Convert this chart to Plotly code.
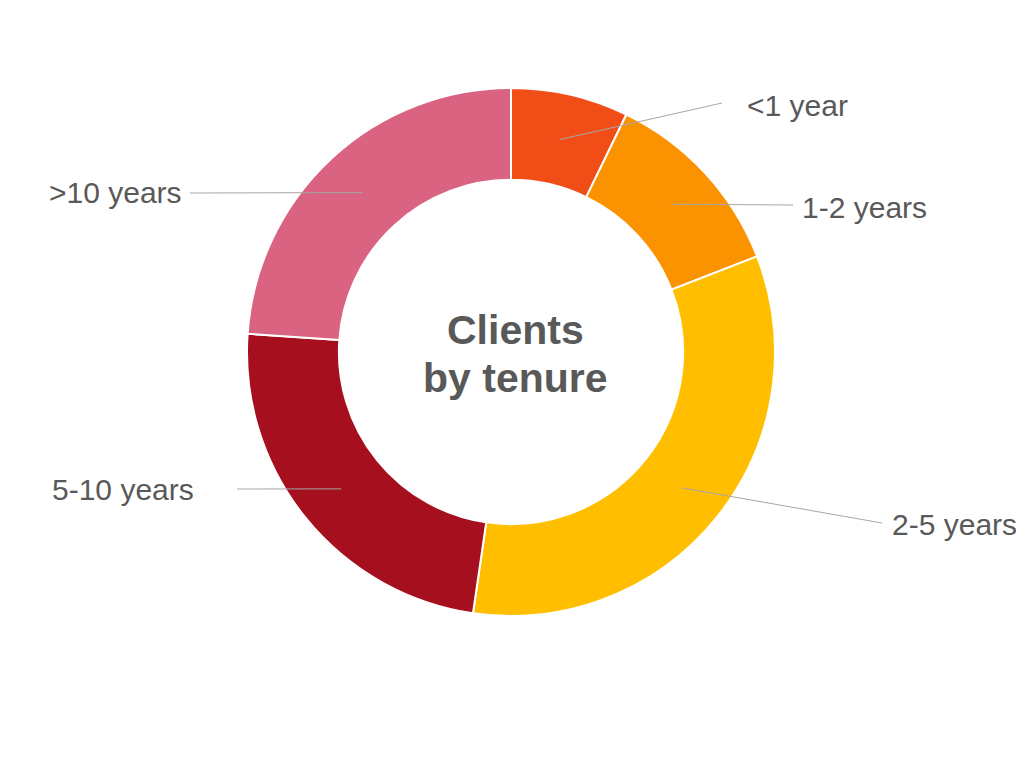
import math
import plotly.graph_objects as go

# ---- data ----
categories = ["<1 year", "1-2 years", "2-5 years", "5-10 years", ">10 years"]
shares = [7.2, 11.9, 33.2, 23.8, 23.9]
colors = ["#F04E16", "#FB9300", "#FFBF00", "#A50F1E", "#D96381"]
center_lines = ["Clients", "by tenure"]

# ---- layout (pixels in the page; the page body has an 8px margin) ----
OFF = 8
W, H = 1024 - OFF, 770 - OFF
CX, CY, R = 511, 352, 264
HOLE = 0.652
R_MID = R * (1 + HOLE) / 2
# leader-line end point and label anchor per category
label_layout = {
    "<1 year": dict(end=(722, 103), text=(745, 105), anchor="left"),
    "1-2 years": dict(end=(793, 205), text=(800, 207), anchor="left"),
    "2-5 years": dict(end=(882, 523), text=(890, 524), anchor="left"),
    "5-10 years": dict(end=(237, 489), text=(196, 490), anchor="right"),
    ">10 years": dict(end=(190, 193), text=(184, 193), anchor="right"),
}

def px(x):
    return (x - OFF) / W

def py(y):
    return 1 - (y - OFF) / H

fig = go.Figure(go.Pie(
    labels=categories,
    values=shares,
    sort=False,
    direction="clockwise",
    rotation=0,
    hole=HOLE,
    marker=dict(colors=colors, line=dict(color="white", width=2)),
    textinfo="none",
    hoverinfo="label+percent",
    domain=dict(x=[px(CX - R), px(CX + R)], y=[py(CY + R), py(CY - R)]),
    showlegend=False,
))

font_family = "Liberation Sans, Arial, sans-serif"
total = sum(shares)
cum = 0
shapes, annotations = [], []
for cat, v in zip(categories, shares):
    mid = (cum + v / 2) / total * 2 * math.pi
    cum += v
    sx = CX + R_MID * math.sin(mid)
    sy = CY - R_MID * math.cos(mid)
    lay = label_layout[cat]
    ex, ey = lay["end"]
    shapes.append(dict(type="line", xref="paper", yref="paper",
                       x0=px(sx), y0=py(sy), x1=px(ex), y1=py(ey),
                       line=dict(color="#A6A6A6", width=1)))
    tx, ty = lay["text"]
    annotations.append(dict(x=px(tx), y=py(ty), xref="paper", yref="paper",
                            text=cat, showarrow=False,
                            xanchor=lay["anchor"], yanchor="middle",
                            font=dict(family=font_family, size=30, color="#595959")))

for i, line in enumerate(center_lines):
    annotations.append(dict(x=px(515), y=py(330 + i * 48), xref="paper", yref="paper",
                            text="<b>%s</b>" % line, showarrow=False,
                            xanchor="center", yanchor="middle",
                            font=dict(family=font_family, size=41, color="#595959")))

fig.update_layout(
    width=W, height=H,
    margin=dict(l=0, r=0, t=0, b=0),
    paper_bgcolor="white", plot_bgcolor="white",
    shapes=shapes, annotations=annotations,
)

fig.write_html("out.html")
